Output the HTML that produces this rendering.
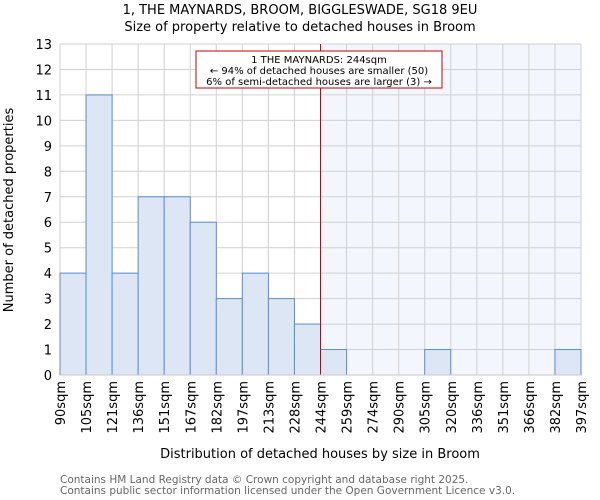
<!DOCTYPE html>
<html><head><meta charset="utf-8"><style>body{margin:0;background:#fff}svg{display:block;font-family:"DejaVu Sans","Liberation Sans",sans-serif}</style></head>
<body>
<svg id="c" width="600" height="500"></svg>
<script>
const binEdges=["90sqm","105sqm","121sqm","136sqm","151sqm","167sqm","182sqm","197sqm","213sqm","228sqm","244sqm","259sqm","274sqm","290sqm","305sqm","320sqm","336sqm","351sqm","366sqm","382sqm","397sqm"];
const counts=[4,11,4,7,7,6,3,4,3,2,1,0,0,0,1,0,0,0,0,1];
const yTicks=[0,1,2,3,4,5,6,7,8,9,10,11,12,13];
const markerIndex=10;
const NS="http://www.w3.org/2000/svg";
const svg=document.getElementById('c');
const L=60,R=581,T=44,B=375,yMax=13;
const bw=(R-L)/counts.length;
const xs=i=>L+i*bw;
const ys=v=>B-v/yMax*(B-T);
function mk(t,a,p){const e=document.createElementNS(NS,t);for(const k in a)e.setAttribute(k,a[k]);(p||svg).appendChild(e);return e;}
let hl=mk('rect',{x:xs(markerIndex),y:T,width:R-xs(markerIndex),height:B-T,fill:'#f3f6fd'});


yTicks.forEach(v=>{let g=mk('line',{x1:L,x2:R,y1:ys(v),y2:ys(v),stroke:'#d0d0d0','stroke-width':1});

});
binEdges.forEach((s,i)=>{let g=mk('line',{x1:xs(i),x2:xs(i),y1:T,y2:B,stroke:'#d0d0d0','stroke-width':1});

});
counts.forEach((v,i)=>{if(v<=0)return;let r=mk('rect',{x:xs(i),y:ys(v),width:bw,height:B-ys(v),fill:'#dce6f4',stroke:'#5b8ed6','stroke-width':1});

});
let ml=mk('line',{x1:xs(markerIndex),x2:xs(markerIndex),y1:T,y2:B,stroke:'#cc0000','stroke-width':1});


let ax=mk('line',{x1:L,x2:R,y1:B,y2:B,stroke:'#c8c8c8'});


yTicks.forEach(v=>{let t=mk('text',{x:L-8,y:ys(v)+5,'text-anchor':'end','font-size':13,fill:'#000'});t.textContent=v;

});
binEdges.forEach((s,i)=>{let t=mk('text',{transform:`translate(${xs(i)+5},381) rotate(-90)`,'text-anchor':'end','font-size':13,fill:'#000'});t.textContent=s;

});
let box=mk('rect',{x:196,y:51,width:246,height:37,fill:'#fff',stroke:'#cc0000','stroke-width':1});


[["1 THE MAYNARDS: 244sqm",63],["← 94% of detached houses are smaller (50)",74],["6% of semi-detached houses are larger (3) →",85]].forEach(([s,y])=>{let t=mk('text',{x:319,y:y,'text-anchor':'middle','font-size':10});t.textContent=s;

});
function txt(s,a,name){let t=mk('text',a);t.textContent=s;

}
txt("1, THE MAYNARDS, BROOM, BIGGLESWADE, SG18 9EU",{x:300,y:14,'text-anchor':'middle','font-size':13},'chart-title');
txt("Size of property relative to detached houses in Broom",{x:300,y:31,'text-anchor':'middle','font-size':13},'chart-subtitle');
txt("Distribution of detached houses by size in Broom",{x:320,y:458,'text-anchor':'middle','font-size':13},'x-axis-title');
txt("Number of detached properties",{transform:'translate(13,210) rotate(-90)','text-anchor':'middle','font-size':13},'y-axis-title');
txt("Contains HM Land Registry data © Crown copyright and database right 2025.",{x:60,y:483,'font-size':10.5,fill:'#666'},'footer-line-1');
txt("Contains public sector information licensed under the Open Government Licence v3.0.",{x:60,y:494,'font-size':10.5,fill:'#666'},'footer-line-2');
</script>
</body></html>
